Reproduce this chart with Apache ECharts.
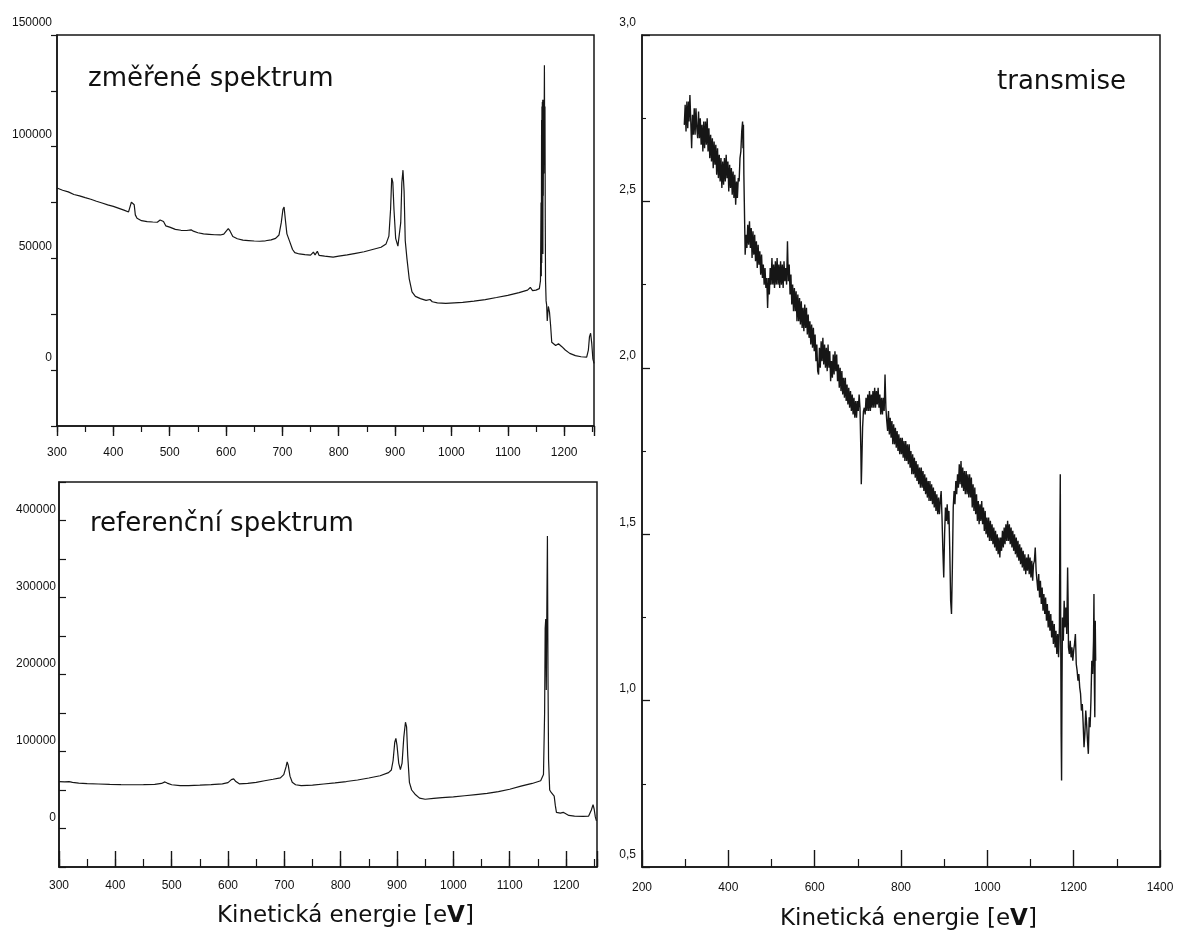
<!DOCTYPE html>
<html lang="cs">
<head>
<meta charset="utf-8">
<title>Spektra a transmise</title>
<script src="https://cdn.jsdelivr.net/npm/echarts@6/dist/echarts.min.js"></script>
<style>
  html, body { margin: 0; padding: 0; background: #ffffff; }
  #main { width: 1179px; height: 931px; }
</style>
</head>
<body>
<div id="main"></div>
<script>
// Naměřené spektrum: [kinetická energie (eV), počet impulzů]
const zmereneSpektrum = [
  [300, 81500], [310, 80500], [320, 79800], [330, 78600], [340, 78000], [350, 77200],
  [360, 76500], [370, 75600], [380, 74800], [390, 74000], [400, 73300], [410, 72400],
  [420, 71500], [427, 70800], [430, 71500], [432, 75200], [435, 75600], [437, 74000],
  [439, 69500], [442, 68000], [450, 66900], [460, 66500], [470, 66300], [478, 66200],
  [483, 67200], [486, 67800], [489, 66500], [493, 64600], [500, 64000], [510, 63000],
  [520, 62600], [530, 62500], [538, 62800], [542, 62200], [550, 61500], [560, 61000],
  [570, 60800], [580, 60600], [590, 60500], [596, 60900], [601, 62400], [604, 63300],
  [607, 62300], [612, 59800], [620, 58800], [630, 58200], [640, 58000], [650, 57800],
  [660, 57700], [670, 57900], [680, 58300], [688, 59000], [694, 60500], [698, 66000],
  [701, 72000], [703, 73000], [705, 68000], [708, 61000], [713, 57500], [718, 54000],
  [722, 52600], [730, 52000], [740, 51700], [750, 51500], [755, 52800], [758, 51600],
  [762, 53200], [765, 51400], [775, 51000], [790, 50600], [800, 51000], [815, 51600],
  [830, 52300], [845, 53000], [860, 54000], [875, 55000], [884, 56500], [889, 60000],
  [892, 72000], [894, 86000], [896, 84000], [898, 72000], [901, 59000], [905, 55500],
  [908, 56000], [910, 66000], [912, 84000], [914, 89500], [916, 80000], [918, 58000],
  [921, 50000], [925, 41000], [930, 35000], [936, 33000], [945, 32000], [955, 31200],
  [962, 31600], [966, 30600], [975, 30100], [990, 29900], [1005, 30100], [1020, 30300],
  [1040, 30900], [1060, 31600], [1080, 32500], [1100, 33500], [1120, 34700], [1135, 35800],
  [1140, 37000], [1144, 35600], [1150, 35800], [1156, 36500], [1158, 40000], [1159, 75000],
  [1159.5, 42000], [1160, 112000], [1160.3, 48000], [1160.6, 118000], [1161, 58000],
  [1161.3, 120000], [1161.6, 66000], [1162, 121000], [1162.3, 52000], [1162.6, 116000],
  [1163, 78000], [1163.5, 121000], [1164, 88000], [1164.5, 110000], [1165, 136500],
  [1165.5, 98000], [1166, 118000], [1166.5, 68000], [1167, 40000], [1168, 31000],
  [1169, 29000], [1170, 22000], [1172, 28500], [1174, 26000], [1176, 20000], [1178, 12500],
  [1185, 11000], [1190, 11800], [1193, 12500], [1196, 10500], [1202, 9000], [1210, 7500],
  [1220, 6500], [1230, 6000], [1240, 5800], [1243, 9000], [1245, 15000], [1247, 16500],
  [1249, 12000], [1251, 5000], [1253, 3000]
];

// Referenční spektrum: [kinetická energie (eV), počet impulzů]
const referencniSpektrum = [
  [300, 61000], [310, 60500], [318, 60800], [321, 63000], [324, 60000], [335, 59000],
  [350, 58300], [370, 57800], [390, 57300], [410, 57000], [430, 56800], [450, 56900],
  [470, 57300], [482, 58500], [488, 60500], [492, 59000], [500, 56800], [515, 55700],
  [530, 55800], [550, 56300], [570, 56900], [590, 58000], [600, 59600], [606, 63500],
  [610, 64500], [614, 61000], [620, 58000], [635, 58600], [650, 60000], [665, 62000],
  [680, 64000], [693, 65800], [699, 70000], [703, 80000], [705, 86500], [707, 82000],
  [710, 68000], [714, 60000], [720, 56800], [730, 55800], [750, 56300], [770, 57800],
  [790, 59200], [810, 61000], [830, 63000], [850, 65600], [870, 68500], [885, 72500],
  [890, 76000], [893, 88000], [896, 112000], [898, 117000], [900, 108000], [903, 85000],
  [906, 76500], [909, 85000], [912, 118000], [915, 138000], [917, 132000], [919, 95000],
  [922, 60000], [926, 50000], [932, 44500], [940, 39500], [950, 38000], [965, 39000],
  [980, 40000], [1000, 41000], [1020, 42500], [1040, 44000], [1060, 45500], [1080, 48000],
  [1100, 51000], [1120, 55000], [1140, 58500], [1155, 62000], [1160, 70000], [1162, 150000],
  [1163, 260000], [1164, 272000], [1165, 180000], [1166, 290000], [1167, 380000], [1168, 200000],
  [1169, 90000], [1171, 50000], [1174, 46500], [1177, 48000], [1179, 42000], [1181, 30000],
  [1183, 21000], [1190, 20000], [1195, 21000], [1198, 19000], [1205, 17000], [1215, 16000],
  [1230, 15800], [1240, 16000], [1245, 24000], [1248, 31000], [1250, 25000], [1252, 15000],
  [1254, 10000]
];

// Transmisní funkce: [kinetická energie (eV), transmise]
const transmise = [
  [298,2.73],[300,2.79],[302,2.71],[304,2.80],[306,2.72],[308,2.80],[309,2.74],[311,2.82],[313,2.74],[315,2.66],
  [317,2.76],[319,2.70],[321,2.78],[323,2.70],[325,2.78],[327,2.72],[329,2.69],[331,2.77],[333,2.69],[335,2.75],
  [337,2.67],[339,2.73],[341,2.65],[343,2.74],[345,2.66],[347,2.74],[349,2.67],[351,2.75],[353,2.65],[355,2.72],
  [357,2.63],[359,2.70],[361,2.62],[363,2.69],[365,2.60],[367,2.68],[369,2.61],[371,2.67],[373,2.58],[375,2.66],
  [377,2.57],[379,2.64],[381,2.56],[383,2.63],[385,2.54],[387,2.62],[389,2.55],[391,2.63],[393,2.56],[395,2.64],
  [397,2.57],[399,2.62],[401,2.53],[403,2.61],[405,2.54],[407,2.60],[409,2.52],[411,2.59],[413,2.51],[415,2.58],
  [417,2.49],[419,2.56],[421,2.51],[423,2.57],[425,2.56],[427,2.63],[429,2.65],[431,2.71],[433,2.74],[434,2.66],
  [435,2.73],[436,2.58],[437,2.50],[438,2.42],[439,2.34],[441,2.40],[443,2.36],[445,2.43],[447,2.37],[449,2.44],
  [451,2.36],[453,2.42],[455,2.33],[457,2.41],[459,2.34],[461,2.40],[463,2.32],[465,2.38],[467,2.30],[469,2.37],
  [471,2.31],[473,2.35],[475,2.28],[477,2.34],[479,2.27],[481,2.31],[483,2.25],[485,2.30],[487,2.24],[489,2.27],
  [491,2.18],[493,2.27],[495,2.22],[497,2.30],[499,2.25],[501,2.33],[503,2.25],[505,2.31],[507,2.24],[509,2.32],
  [511,2.25],[513,2.33],[515,2.25],[517,2.31],[519,2.24],[521,2.32],[523,2.25],[525,2.31],[527,2.24],[529,2.32],
  [531,2.26],[533,2.30],[535,2.25],[537,2.38],[539,2.26],[541,2.31],[543,2.22],[545,2.28],[547,2.19],[549,2.25],
  [551,2.17],[553,2.24],[555,2.17],[557,2.23],[559,2.14],[561,2.22],[563,2.14],[565,2.21],[567,2.13],[569,2.20],
  [571,2.12],[573,2.18],[575,2.11],[577,2.19],[579,2.12],[581,2.18],[583,2.10],[585,2.16],[587,2.09],[589,2.14],
  [591,2.07],[593,2.13],[595,2.06],[597,2.12],[599,2.05],[601,2.10],[603,2.02],[605,2.07],[607,1.99],[609,1.98],
  [611,2.06],[613,2.00],[615,2.08],[617,2.02],[619,2.09],[621,2.01],[623,2.07],[625,2.00],[627,2.06],[629,1.99],
  [631,2.07],[633,2.00],[635,2.05],[637,1.96],[639,2.02],[641,1.97],[643,2.04],[645,1.98],[647,2.05],[649,1.99],
  [651,2.04],[653,1.96],[655,2.01],[657,1.94],[659,2.00],[661,1.93],[663,1.99],[665,1.92],[667,1.97],[669,1.91],
  [671,1.97],[673,1.90],[675,1.95],[677,1.89],[679,1.94],[681,1.88],[683,1.93],[685,1.87],[687,1.92],[689,1.86],
  [691,1.91],[693,1.85],[695,1.90],[697,1.85],[699,1.90],[701,1.87],[703,1.92],[705,1.88],[707,1.75],[708,1.65],
  [709,1.70],[711,1.82],[713,1.87],[715,1.88],[717,1.86],[719,1.91],[721,1.87],[723,1.92],[725,1.87],[727,1.93],
  [729,1.87],[731,1.92],[733,1.88],[735,1.93],[737,1.88],[739,1.94],[741,1.88],[743,1.93],[745,1.89],[747,1.94],
  [749,1.88],[751,1.92],[753,1.86],[755,1.91],[757,1.86],[759,1.91],[761,1.87],[763,1.98],[765,1.88],[767,1.84],
  [769,1.81],[771,1.87],[773,1.80],[775,1.85],[777,1.79],[779,1.84],[781,1.77],[783,1.83],[785,1.77],[787,1.82],
  [789,1.76],[791,1.81],[793,1.75],[795,1.80],[797,1.74],[799,1.79],[801,1.74],[803,1.79],[805,1.73],[807,1.78],
  [809,1.72],[811,1.78],[813,1.72],[815,1.77],[817,1.71],[819,1.77],[821,1.70],[823,1.75],[825,1.68],[827,1.74],
  [829,1.68],[831,1.73],[833,1.67],[835,1.72],[837,1.66],[839,1.71],[841,1.65],[843,1.70],[845,1.64],[847,1.70],
  [849,1.64],[851,1.69],[853,1.63],[855,1.68],[857,1.62],[859,1.67],[861,1.61],[863,1.66],[865,1.60],[867,1.66],
  [869,1.60],[871,1.65],[873,1.59],[875,1.64],[877,1.58],[879,1.63],[881,1.57],[883,1.62],[885,1.56],[887,1.61],
  [889,1.56],[891,1.60],[893,1.63],[895,1.55],[897,1.45],[899,1.37],[901,1.50],[903,1.58],[905,1.54],[907,1.59],
  [909,1.53],[911,1.57],[913,1.45],[915,1.30],[917,1.26],[919,1.40],[921,1.58],[923,1.63],[925,1.59],[927,1.66],
  [929,1.62],[931,1.68],[933,1.64],[935,1.71],[937,1.65],[939,1.72],[941,1.64],[943,1.70],[945,1.63],[947,1.69],
  [949,1.62],[951,1.69],[953,1.62],[955,1.68],[957,1.61],[959,1.68],[961,1.61],[963,1.67],[965,1.58],[967,1.65],
  [969,1.57],[971,1.64],[973,1.56],[975,1.62],[977,1.54],[979,1.60],[981,1.53],[983,1.59],[985,1.54],[987,1.60],
  [989,1.53],[991,1.58],[993,1.51],[995,1.57],[997,1.50],[999,1.55],[1001,1.49],[1003,1.55],[1005,1.48],[1007,1.54],
  [1009,1.48],[1011,1.53],[1013,1.47],[1015,1.52],[1017,1.46],[1019,1.51],[1021,1.45],[1023,1.50],[1025,1.44],[1027,1.49],
  [1029,1.43],[1031,1.49],[1033,1.45],[1035,1.51],[1037,1.46],[1039,1.52],[1041,1.47],[1043,1.53],[1045,1.48],[1047,1.54],
  [1049,1.48],[1051,1.53],[1053,1.47],[1055,1.52],[1057,1.46],[1059,1.51],[1061,1.45],[1063,1.50],[1065,1.44],[1067,1.49],
  [1069,1.43],[1071,1.48],[1073,1.42],[1075,1.47],[1077,1.41],[1079,1.46],[1081,1.40],[1083,1.45],[1085,1.39],[1087,1.44],
  [1089,1.38],[1091,1.43],[1093,1.39],[1095,1.44],[1097,1.38],[1099,1.43],[1101,1.37],[1103,1.42],[1105,1.36],[1107,1.41],
  [1109,1.42],[1111,1.46],[1113,1.39],[1115,1.36],[1117,1.33],[1119,1.38],[1121,1.31],[1123,1.36],[1125,1.29],[1127,1.34],
  [1129,1.27],[1131,1.32],[1133,1.26],[1135,1.31],[1137,1.24],[1139,1.29],[1141,1.22],[1143,1.27],[1145,1.21],[1147,1.26],
  [1149,1.19],[1151,1.24],[1153,1.17],[1155,1.23],[1157,1.16],[1159,1.21],[1161,1.14],[1163,1.20],[1165,1.13],[1167,1.22],
  [1168,1.50],[1169,1.68],[1170,1.20],[1171,0.90],[1172,0.76],[1173,1.05],[1174,1.25],[1176,1.18],[1178,1.30],[1180,1.22],
  [1182,1.28],[1184,1.20],[1186,1.40],[1187,1.31],[1188,1.16],[1190,1.14],[1192,1.18],[1194,1.13],[1196,1.16],[1198,1.12],
  [1200,1.15],[1202,1.17],[1204,1.20],[1206,1.11],[1208,1.09],[1210,1.06],[1212,1.08],[1214,1.04],[1216,1.02],[1218,0.97],
  [1220,0.99],[1222,0.93],[1224,0.86],[1226,0.90],[1228,0.97],[1230,0.93],[1232,0.88],[1234,0.84],[1236,0.95],[1238,0.92],
  [1240,1.00],[1242,1.12],[1244,1.08],[1246,1.18],[1247,1.32],[1248,1.05],[1249,0.95],[1250,1.24],[1251,1.12]
];

// Popisky os
const energieTicks = [300, 400, 500, 600, 700, 800, 900, 1000, 1100, 1200];
const energieTicksPrava = [200, 400, 600, 800, 1000, 1200, 1400];
const zmereneTicks = [0, 50000, 100000, 150000];
const referencniTicks = [0, 100000, 200000, 300000, 400000];
const transmiseTicks = [0.5, 1.0, 1.5, 2.0, 2.5, 3.0];

const INK = '#161616';
const tickFont = { fontFamily: '"Liberation Sans", Arial, sans-serif', fontSize: 12, color: '#111111' };
const titleFont = '"DejaVu Sans", Verdana, sans-serif';

function near(list, v) { return list.some(t => Math.abs(t - v) < 1e-6); }

// Energy axis pair for the left panels: long ticks every 100 eV, short ticks every 50 eV
function energyAxes(gridIndex, max, inside, majorLen, minorLen, margin) {
  return [
    {
      type: 'value', gridIndex, position: 'bottom', min: 300, max, interval: 100,
      axisLine: { show: true, onZero: false, lineStyle: { color: INK, width: 1.5 } },
      axisTick: { show: true, inside, length: majorLen, lineStyle: { color: INK, width: 1.4 } },
      axisLabel: Object.assign({}, tickFont, { margin, formatter: v => near(energieTicks, v) ? String(v) : '' }),
      splitLine: { show: false }
    },
    {
      type: 'value', gridIndex, position: 'bottom', min: 300, max, interval: 50,
      axisLine: { show: false, onZero: false },
      axisTick: { show: true, inside, length: minorLen, lineStyle: { color: INK, width: 1.2 } },
      axisLabel: { show: false },
      splitLine: { show: false }
    }
  ];
}

const gridFrame = { show: true, borderColor: INK, borderWidth: 1.5, backgroundColor: 'transparent' };

const option = {
  backgroundColor: '#ffffff',
  animation: false,
  grid: [
    Object.assign({ left: 57, top: 35, width: 537, height: 391 }, gridFrame),
    Object.assign({ left: 59, top: 482, width: 538, height: 385 }, gridFrame),
    Object.assign({ left: 642, top: 35, width: 518, height: 832 }, gridFrame)
  ],
  xAxis: [
    ...energyAxes(0, 1253, false, 10, 6, 21),
    ...energyAxes(1, 1255, true, 16, 8, 13),
    {
      type: 'value', gridIndex: 2, position: 'bottom', min: 200, max: 1400, interval: 200,
      axisLine: { show: true, onZero: false, lineStyle: { color: INK, width: 1.5 } },
      axisTick: { show: true, inside: true, length: 17, lineStyle: { color: INK, width: 1.4 } },
      minorTick: { show: true, splitNumber: 2, length: 8, lineStyle: { color: INK, width: 1.2 } },
      axisLabel: Object.assign({}, tickFont, {
        margin: 15, formatter: v => near(energieTicksPrava, v) ? String(v) : ''
      }),
      splitLine: { show: false }
    }
  ],
  yAxis: [
    {
      type: 'value', gridIndex: 0, position: 'left', min: -25000, max: 150000, interval: 25000,
      axisLine: { show: true, onZero: false, lineStyle: { color: INK, width: 1.5 } },
      axisTick: { show: true, inside: false, length: 6, lineStyle: { color: INK, width: 1.2 } },
      axisLabel: Object.assign({}, tickFont, {
        margin: 5, verticalAlign: 'bottom', padding: [0, 0, 6, 0],
        formatter: v => near(zmereneTicks, v) ? String(v) : ''
      }),
      splitLine: { show: false }
    },
    {
      type: 'value', gridIndex: 1, position: 'left', min: -50000, max: 450000, interval: 50000,
      axisLine: { show: true, onZero: false, lineStyle: { color: INK, width: 1.5 } },
      axisTick: { show: true, inside: true, length: 7, lineStyle: { color: INK, width: 1.2 } },
      axisLabel: Object.assign({}, tickFont, {
        margin: 3, verticalAlign: 'bottom', padding: [0, 0, 5, 0],
        formatter: v => near(referencniTicks, v) ? String(v) : ''
      }),
      splitLine: { show: false }
    },
    {
      type: 'value', gridIndex: 2, position: 'left', min: 0.5, max: 3.0, interval: 0.5,
      axisLine: { show: true, onZero: false, lineStyle: { color: INK, width: 1.5 } },
      axisTick: { show: true, inside: true, length: 8, lineStyle: { color: INK, width: 1.3 } },
      minorTick: { show: true, splitNumber: 2, length: 4, lineStyle: { color: INK, width: 1.1 } },
      axisLabel: Object.assign({}, tickFont, {
        margin: 6, verticalAlign: 'bottom', padding: [0, 0, 6, 0],
        formatter: v => near(transmiseTicks, v) ? v.toFixed(1).replace('.', ',') : ''
      }),
      splitLine: { show: false }
    }
  ],
  series: [
    {
      name: 'změřené spektrum', type: 'line', xAxisIndex: 0, yAxisIndex: 0,
      data: zmereneSpektrum, showSymbol: false, symbol: 'none',
      lineStyle: { color: INK, width: 1.2 }
    },
    {
      name: 'referenční spektrum', type: 'line', xAxisIndex: 2, yAxisIndex: 1,
      data: referencniSpektrum, showSymbol: false, symbol: 'none',
      lineStyle: { color: INK, width: 1.2 }
    },
    {
      name: 'transmise', type: 'line', xAxisIndex: 4, yAxisIndex: 2,
      data: transmise, showSymbol: false, symbol: 'none',
      lineStyle: { color: INK, width: 1.4 }
    }
  ],
  graphic: [
    { type: 'text', left: 88, top: 66, style: { text: 'změřené spektrum', font: '26px ' + titleFont, fill: '#111' } },
    { type: 'text', left: 90, top: 511, style: { text: 'referenční spektrum', font: '26px ' + titleFont, fill: '#111' } },
    { type: 'text', left: 997, top: 69, style: { text: 'transmise', font: '26px ' + titleFont, fill: '#111' } },
    {
      type: 'text', left: 217, top: 905,
      style: {
        text: 'Kinetická energie [e{b|V}]', font: '23px ' + titleFont, fill: '#111',
        rich: { b: { fontWeight: 'bold', fontSize: 23, fontFamily: titleFont, fill: '#111' } }
      }
    },
    {
      type: 'text', left: 780, top: 908,
      style: {
        text: 'Kinetická energie [e{b|V}]', font: '23px ' + titleFont, fill: '#111',
        rich: { b: { fontWeight: 'bold', fontSize: 23, fontFamily: titleFont, fill: '#111' } }
      }
    }
  ]
};

const chart = echarts.init(document.getElementById('main'));
chart.setOption(option);
</script>
</body>
</html>
